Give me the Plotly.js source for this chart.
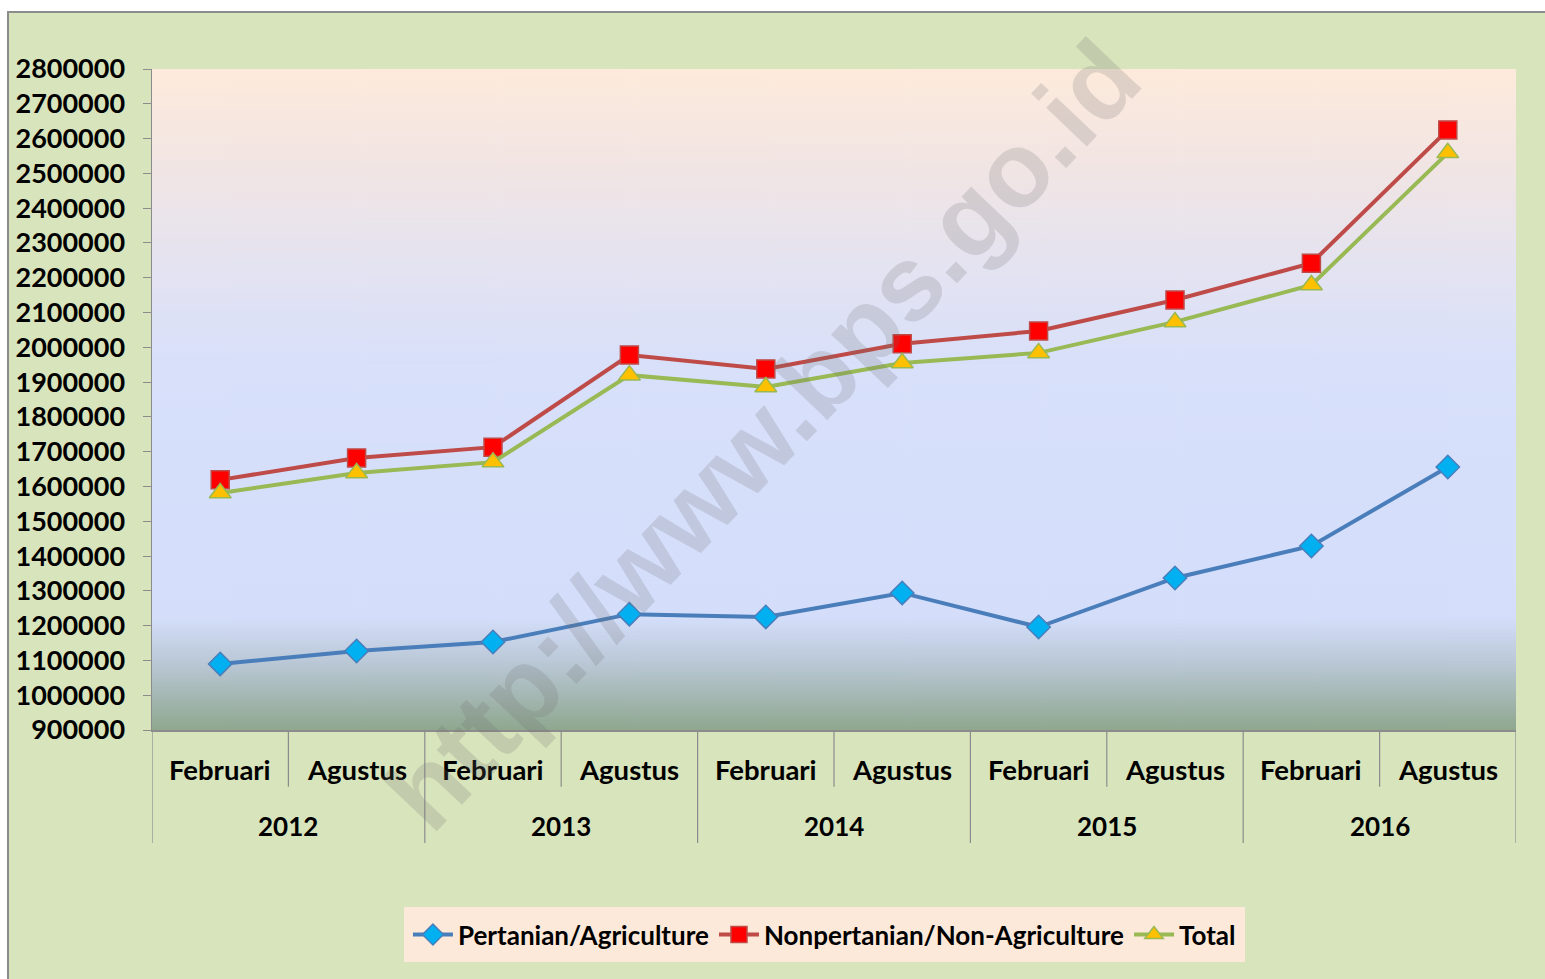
<!DOCTYPE html>
<html>
<head>
<meta charset="utf-8">
<script src="https://cdn.plot.ly/plotly-3.0.1.min.js"></script>
<style>
  html, body { margin:0; padding:0; background:#ffffff; overflow:hidden; }
  #wrap { position:absolute; left:7px; top:11px; width:1545px; height:975px;
          border-left:2px solid #8c8c8c; border-top:2px solid #8c8c8c; background:#d8e4bc; }
  #chart { position:absolute; left:0; top:0; width:1536px; height:966px; }
</style>
</head>
<body>
<div id="wrap"><div id="chart"></div></div>
<script>
// ---- data ----
const years = ["2012", "2013", "2014", "2015", "2016"];
const months = ["Februari", "Agustus"];
const categories = ["Februari 2012","Agustus 2012","Februari 2013","Agustus 2013","Februari 2014",
                    "Agustus 2014","Februari 2015","Agustus 2015","Februari 2016","Agustus 2016"];
const pertanian = [1090000, 1127000, 1153000, 1233000, 1225000, 1294000, 1196000, 1337000, 1429000, 1656000];
const nonPertanian = [1619000, 1682000, 1713000, 1978000, 1938000, 2010000, 2047000, 2136000, 2242000, 2625000];
const total = [1581000, 1639000, 1670000, 1920000, 1886000, 1955000, 1984000, 2073000, 2179000, 2559000];
const yTicks = [900000,1000000,1100000,1200000,1300000,1400000,1500000,1600000,1700000,1800000,
                1900000,2000000,2100000,2200000,2300000,2400000,2500000,2600000,2700000,2800000];
const watermark = "http://www.bps.go.id";

// ---- gradient background image for plot area ----
function gradientImage() {
  const c = document.createElement('canvas');
  c.width = 10; c.height = 661;
  const g = c.getContext('2d');
  const grd = g.createLinearGradient(0, 0, 0, 661);
  grd.addColorStop(0.0, '#fdeadb');
  grd.addColorStop(0.15, '#f1e5e4');
  grd.addColorStop(0.30, '#e4e3f1');
  grd.addColorStop(0.45, '#d8e0fa');
  grd.addColorStop(0.83, '#d4defa');
  grd.addColorStop(0.90, '#b9c7d5');
  grd.addColorStop(1.0, '#8fa78f');
  g.fillStyle = grd; g.fillRect(0, 0, 10, 661);
  return c.toDataURL('image/png');
}

const xIdx = categories.map((_, i) => i);
const FONT = 'Lato, "Open Sans", sans-serif';

const traces = [
  { x: xIdx, y: pertanian, name: 'Pertanian/Agriculture', type: 'scatter', mode: 'lines+markers',
    line: { color: '#4a7ebb', width: 4 },
    marker: { symbol: 'diamond', size: 18, color: '#00b0f0', line: { color: '#4a7ebb', width: 1.5 } } },
  { x: xIdx, y: nonPertanian, name: 'Nonpertanian/Non-Agriculture', type: 'scatter', mode: 'lines+markers',
    line: { color: '#be4b48', width: 4 },
    marker: { symbol: 'square', size: 18, color: '#ff0000', line: { color: '#be4b48', width: 1.5 } } },
  { x: xIdx, y: total, name: 'Total', type: 'scatter', mode: 'lines+markers',
    line: { color: '#98b954', width: 4 },
    marker: { symbol: 'triangle-up', size: 19, color: '#ffc000', line: { color: '#98b954', width: 1.5 } } }
];

const annotations = [];
const shapes = [];
categories.forEach((c, i) => {
  annotations.push({ x: i, y: 0, xref: 'x', yref: 'paper', text: months[i % months.length],
    showarrow: false, yanchor: 'middle', yshift: -39,
    font: { family: FONT, size: 27.5, color: '#000', weight: 'bold' } });
});
years.forEach((yr, k) => {
  const per = months.length;
  annotations.push({ x: k * per + (per - 1) / 2, y: 0, xref: 'x', yref: 'paper', text: yr,
    showarrow: false, yanchor: 'middle', yshift: -96,
    font: { family: FONT, size: 26, color: '#000', weight: 'bold' } });
});
// dividers
for (let b = 0; b <= categories.length; b++) {
  const major = (b % months.length === 0);
  shapes.push({ type: 'line', xref: 'x', yref: 'paper', x0: b - 0.5, x1: b - 0.5,
    y0: 0, y1: major ? -0.171 : -0.086, line: { color: '#8c8c8c', width: 1.2 } });
}
// watermark
annotations.push({ x: 0.447, y: 0.447, xref: 'paper', yref: 'paper', text: watermark,
  showarrow: false, textangle: -46.5, xanchor: 'center', yanchor: 'middle',
  font: { family: '"Liberation Sans", Arial, sans-serif', size: 106, color: 'rgba(110,110,110,0.2)', weight: 'bold' } });

const layout = {
  width: 1536, height: 966,
  paper_bgcolor: '#d8e4bc',
  plot_bgcolor: 'rgba(0,0,0,0)',
  margin: { l: 143, r: 29, t: 56, b: 249 },
  showlegend: true,
  legend: { orientation: 'h', x: 0.493, xanchor: 'center', y: -0.268, yanchor: 'top',
    bgcolor: '#fde9d9', bordercolor: '#fde9d9', borderwidth: 4,
    font: { family: FONT, size: 26, color: '#000', weight: 'bold' },
    itemwidth: 40, tracegroupgap: 0 },
  xaxis: { range: [-0.5, categories.length - 0.5], showticklabels: false, ticks: '', showgrid: false,
    zeroline: false, showline: true, linecolor: '#8c8c8c', linewidth: 1.5, fixedrange: true },
  yaxis: { range: [yTicks[0], yTicks[yTicks.length - 1]], tickvals: yTicks,
    ticktext: yTicks.map(String), ticks: 'outside', ticklen: 8, tickcolor: '#8c8c8c',
    ticklabelstandoff: 12,
    showline: true, linecolor: '#8c8c8c', linewidth: 1.5, showgrid: false, zeroline: false,
    tickfont: { family: FONT, size: 27, color: '#000', weight: 'bold' }, fixedrange: true },
  images: [{ source: gradientImage(), xref: 'paper', yref: 'paper', x: 0, y: 1, sizex: 1, sizey: 1,
    sizing: 'stretch', layer: 'below', xanchor: 'left', yanchor: 'top' }],
  annotations: annotations,
  shapes: shapes
};

Plotly.newPlot('chart', traces, layout, { displayModeBar: false, staticPlot: true });
</script>
</body>
</html>
